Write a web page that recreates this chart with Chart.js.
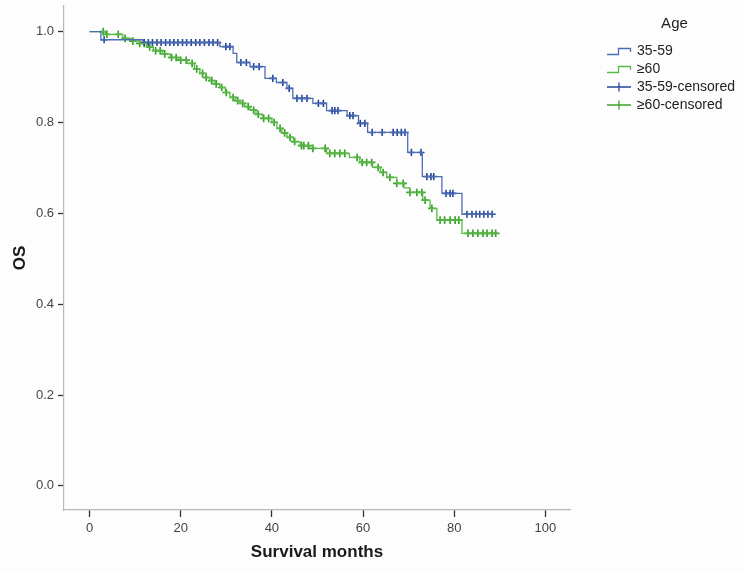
<!DOCTYPE html>
<html><head><meta charset="utf-8">
<script src="https://cdn.jsdelivr.net/npm/chart.js@4.4.1/dist/chart.umd.min.js"></script>
<style>html,body{margin:0;padding:0;background:#fdfdfd;} canvas{display:block;}</style>
</head><body>
<canvas id="c" width="745" height="571"></canvas>
<script>
// ---- data ----
const seriesNames = ['35-59', '\u226560', '35-59-censored', '\u226560-censored'];
const legendTitle = 'Age';
const xAxisTitle = 'Survival months';
const yAxisTitle = 'OS';
const xTicks = [0, 20, 40, 60, 80, 100];
const yTicks = [0, 0.2, 0.4, 0.6, 0.8, 1.0];

// Kaplan-Meier step points: time (months) and survival after the drop
const youngTimes = [0, 2.5, 11.7, 28.6, 31.5, 32.3, 35.2, 38.5, 41, 43.3, 44.6, 49, 52, 56.5, 59, 61, 69.8, 73, 77.3, 81.7, 88.6];
const youngSurv  = [1.0, 0.982, 0.976, 0.967, 0.952, 0.932, 0.923, 0.897, 0.888, 0.875, 0.853, 0.842, 0.826, 0.815, 0.798, 0.778, 0.734, 0.681, 0.644, 0.598, 0.598];

const oldTimes = [0, 3.5, 7.3, 9.5, 11, 12.5, 14, 16, 17.7, 19.5, 21.4, 23, 24.2, 25.5, 26.4, 27.5, 28.6, 29.8, 30.8, 32, 33, 34, 35.2, 36.5, 38, 40, 41.1, 42.2, 43.3, 44.8, 46.2, 49, 52, 57, 59.3, 62.1, 63.8, 65.2, 67.4, 69, 70.3, 73.1, 74.7, 76.2, 81.7, 89.6];
const oldSurv  = [1.0, 0.994, 0.985, 0.979, 0.974, 0.966, 0.958, 0.951, 0.943, 0.937, 0.930, 0.918, 0.908, 0.899, 0.892, 0.885, 0.877, 0.866, 0.855, 0.848, 0.842, 0.835, 0.827, 0.818, 0.809, 0.800, 0.787, 0.777, 0.767, 0.758, 0.749, 0.743, 0.732, 0.723, 0.712, 0.701, 0.690, 0.679, 0.666, 0.656, 0.646, 0.629, 0.611, 0.585, 0.556, 0.556];

// censoring times (months)
const youngCensor = [3.2, 12.0, 12.9, 13.8, 14.8, 15.7, 16.7, 17.6, 18.5, 19.4, 20.4, 21.3, 22.3, 23.3, 24.2, 25.2, 26.2, 27.1, 28.1, 29.9, 30.8, 33.2, 34.4, 36.0, 37.2, 40.2, 42.4, 43.8, 45.5, 46.6, 47.7, 50.2, 51.3, 53.2, 53.8, 54.5, 57.1, 57.8, 59.4, 60.4, 62.0, 64.2, 66.6, 67.5, 68.4, 69.2, 70.6, 72.7, 74.0, 74.9, 75.5, 78.2, 79.1, 79.7, 82.8, 83.9, 84.8, 85.6, 86.5, 87.4, 88.3];
const oldCensor = [3.0, 3.8, 6.3, 7.8, 9.5, 11.0, 12.0, 13.2, 14.5, 15.5, 16.5, 18.0, 19.0, 20.0, 21.2, 22.5, 23.5, 24.8, 25.6, 26.8, 27.8, 29.0, 30.0, 31.5, 32.5, 33.6, 34.8, 36.0, 37.0, 38.2, 39.3, 40.5, 41.8, 42.8, 44.0, 45.0, 46.5, 47.0, 48.0, 49.0, 51.7, 52.7, 53.8, 54.9, 56.0, 58.7, 59.8, 60.8, 61.9, 63.3, 64.4, 65.9, 67.4, 68.8, 70.3, 71.8, 72.9, 73.6, 75.1, 76.9, 77.9, 79.1, 80.2, 81.0, 83.0, 84.1, 85.2, 86.3, 87.2, 88.3, 89.1];

// ---- styles ----
const blueLine = '#4c6db5', blueMark = '#24479a';
const greenLine = '#5cb848', greenMark = '#3aa52a';
const FONT = '"Liberation Sans", Arial, sans-serif';
const PLOT_RIGHT = 570, LEGEND_LEFT = 604;

function survAt(times, surv, t) {
  let v = surv[0];
  for (let i = 0; i < times.length; i++) { if (times[i] <= t) v = surv[i]; }
  return v;
}
const pts = (ts, ss) => ts.map((t, i) => ({x: t, y: ss[i]}));
const cens = (cs, ts, ss) => cs.map(t => ({x: t, y: survAt(ts, ss, t)}));

function icon(kind, color) {
  const c = document.createElement('canvas');
  c.width = 26; c.height = 12;
  const g = c.getContext('2d');
  g.strokeStyle = color; g.lineWidth = 1.3;
  g.beginPath();
  if (kind === 'step') {
    g.moveTo(1, 9.5); g.lineTo(12.5, 9.5); g.lineTo(12.5, 3.5); g.lineTo(24.5, 3.5); g.lineTo(24.5, 7);
  } else {
    g.moveTo(1, 6); g.lineTo(25, 6); g.moveTo(13, 1.5); g.lineTo(13, 10.5);
  }
  g.stroke();
  return c;
}
const icons = [icon('step', blueLine), icon('step', greenLine), icon('cross', blueMark), icon('cross', greenMark)];

const LEG_FONT = 14, LEG_PAD = 4, PSW = 22;
let gapWidth = 34;

const bg = {
  id: 'bg',
  beforeDraw(chart) {
    const {ctx, width, height} = chart;
    ctx.save(); ctx.fillStyle = '#fdfdfd'; ctx.fillRect(0, 0, width, height); ctx.restore();
  }
};

const chart = new Chart(document.getElementById('c'), {
  type: 'line',
  data: {
    datasets: [
      {label: seriesNames[0], data: pts(youngTimes, youngSurv), stepped: true, borderColor: blueLine, borderWidth: 1.3, pointRadius: 0, fill: false, yAxisID: 'y'},
      {label: seriesNames[1], data: pts(oldTimes, oldSurv), stepped: true, borderColor: greenLine, borderWidth: 1.3, pointRadius: 0, fill: false, yAxisID: 'y'},
      {label: seriesNames[2], data: cens(youngCensor, youngTimes, youngSurv), showLine: false, pointStyle: 'cross', pointRadius: 3.6, pointBorderWidth: 1.6, borderColor: blueMark, backgroundColor: blueMark, yAxisID: 'y'},
      {label: seriesNames[3], data: cens(oldCensor, oldTimes, oldSurv), showLine: false, pointStyle: 'cross', pointRadius: 3.8, pointBorderWidth: 1.7, borderColor: greenMark, backgroundColor: greenMark, yAxisID: 'y'}
    ]
  },
  options: {
    responsive: false,
    animation: false,
    devicePixelRatio: 1,
    layout: {padding: {left: 0, top: 5, right: 0, bottom: 0}},
    plugins: {
      tooltip: {enabled: false},
      legend: {
        position: 'right',
        align: 'start',
        maxWidth: 220,
        title: {display: true, text: legendTitle, color: '#222', font: {family: FONT, size: 15}, padding: {top: 11, bottom: 6}},
        labels: {
          usePointStyle: true,
          pointStyleWidth: PSW,
          padding: LEG_PAD,
          color: '#222',
          font: {family: FONT, size: LEG_FONT},
          generateLabels: ch => ch.data.datasets.map((ds, i) => ({
            text: ds.label, pointStyle: icons[i], fillStyle: 'transparent', strokeStyle: 'transparent',
            lineWidth: 0, hidden: false, datasetIndex: i, fontColor: '#222'
          }))
        }
      }
    },
    scales: {
      x: {
        type: 'linear', min: -5.6, max: 105.4,
        afterBuildTicks: s => { s.ticks = xTicks.map(v => ({value: v})); },
        afterFit: s => { s.height = 61; s.paddingLeft = 0; s.paddingRight = 0; },
        grid: {display: true, drawOnChartArea: false, drawTicks: true, tickLength: 7, tickColor: '#333', tickWidth: 1.3},
        border: {display: true, color: '#bdb8b2', width: 1.2},
        ticks: {color: '#444', font: {family: FONT, size: 13}, padding: 4, maxRotation: 0, callback: v => String(v)},
        title: {display: true, text: xAxisTitle, color: '#1a1a1a', font: {family: FONT, size: 17, weight: 'bold'}, padding: {top: 0, bottom: 8}}
      },
      y: {
        type: 'linear', position: 'left', min: -0.053, max: 1.057,
        afterBuildTicks: s => { s.ticks = yTicks.map(v => ({value: v})); },
        afterFit: s => { s.width = 64; s.paddingTop = 0; s.paddingBottom = 0; },
        grid: {display: true, drawOnChartArea: false, drawTicks: true, tickLength: 6, tickColor: '#333', tickWidth: 1.3},
        border: {display: true, color: '#bdb8b2', width: 1.2},
        ticks: {color: '#444', font: {family: FONT, size: 13}, padding: 4, callback: v => v.toFixed(1)},
        title: {display: true, text: yAxisTitle, color: '#1a1a1a', font: {family: FONT, size: 17, weight: 'bold'}, padding: {top: 10, bottom: 0}}
      },
      gap: {
        type: 'linear', position: 'right', display: true,
        afterFit: s => { s.width = gapWidth; s.paddingTop = 0; s.paddingBottom = 0; },
        grid: {display: false, drawTicks: false},
        border: {display: false},
        ticks: {display: false}
      }
    }
  },
  plugins: [bg]
});

// second layout pass: place the legend and the plot's right edge like the reference
const W = chart.legend.width;
const padR = Math.max(0, 745 - LEGEND_LEFT - W);
chart.options.layout.padding.right = padR;
gapWidth = Math.max(0, (745 - padR - W) - PLOT_RIGHT);
chart.update();
</script>
</body></html>
